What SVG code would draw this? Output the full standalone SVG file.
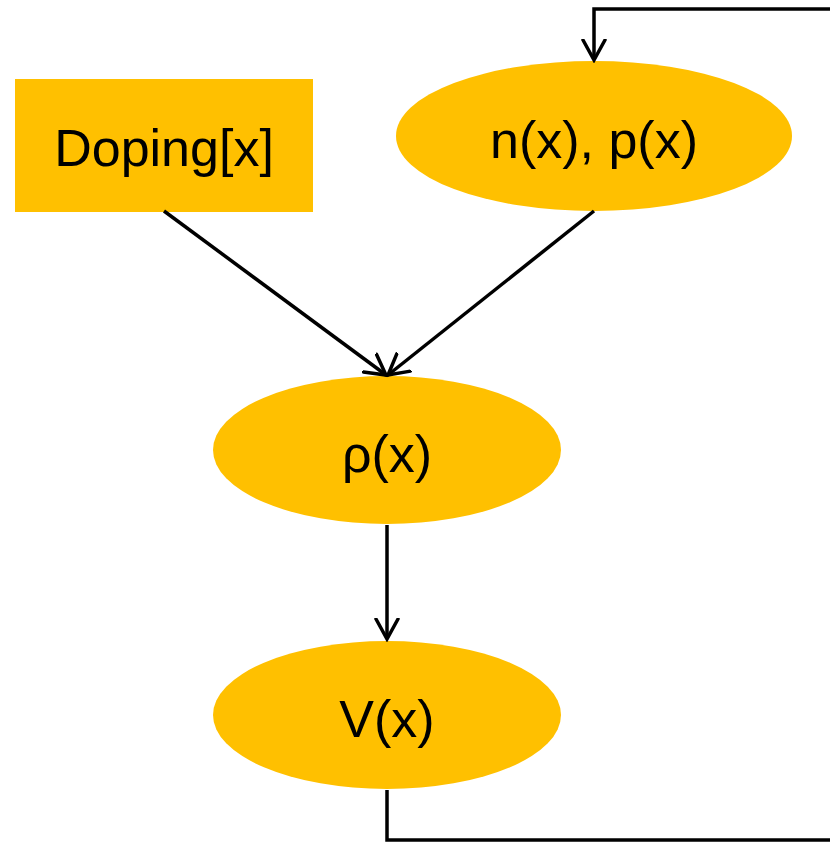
<svg xmlns="http://www.w3.org/2000/svg" width="830" height="842" viewBox="0 0 830 842">
<defs>
<style>
.node{fill:#FFC000;}
.lbl{font-family:"Liberation Sans",Arial,sans-serif;font-size:52px;fill:#000;text-anchor:middle;}
.edge{fill:none;stroke:#000;stroke-width:3.5;}
</style>
<marker id="arr" viewBox="0 0 24 30" refX="21" refY="15" markerWidth="24" markerHeight="30" markerUnits="userSpaceOnUse" orient="auto">
<path d="M1,4 L21,15 L1,26" fill="none" stroke="#000" stroke-width="3.5" stroke-linecap="round" stroke-linejoin="miter"/>
</marker>
</defs>
<rect width="830" height="842" fill="#fff"/>
<g id="doping">
<rect class="node" x="15" y="79" width="298" height="133"/>
<text class="lbl" x="164" y="166">Doping[x]</text>
</g>
<g id="np">
<ellipse class="node" cx="594" cy="136" rx="198" ry="75"/>
<text class="lbl" x="594" y="158">n(x), p(x)</text>
</g>
<g id="rho">
<ellipse class="node" cx="387" cy="450" rx="174" ry="74"/>
<text class="lbl" x="387" y="472">ρ(x)</text>
</g>
<g id="V">
<ellipse class="node" cx="387" cy="715" rx="174" ry="74"/>
<text class="lbl" x="387" y="737">V(x)</text>
</g>
<g id="connectors">
<line class="edge" x1="164" y1="211" x2="386" y2="375" marker-end="url(#arr)"/>
<line class="edge" x1="594" y1="211" x2="388" y2="375" marker-end="url(#arr)"/>
<line class="edge" x1="387" y1="525" x2="387" y2="639" marker-end="url(#arr)"/>
<path class="edge" d="M387,790 V840 H835 V9 H594 V60" marker-end="url(#arr)"/>
</g>
</svg>
